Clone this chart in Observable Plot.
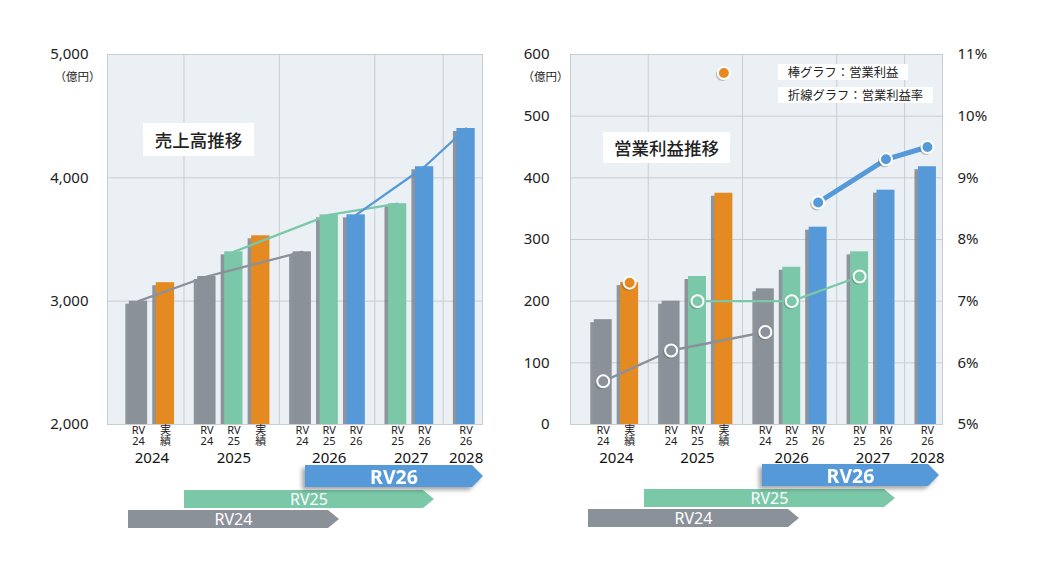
<!DOCTYPE html>
<html><head><meta charset="utf-8">
<script src="https://cdn.jsdelivr.net/npm/d3@7"></script>
<script src="https://cdn.jsdelivr.net/npm/@observablehq/plot@0.6"></script>
<style>
body{margin:0;background:#fff;font-family:"Noto Sans","Noto Sans CJK JP",sans-serif;}
#wrap{position:relative;width:1040px;height:578px;overflow:hidden;background:#fff;}
.chart{position:absolute;top:0;}
.tbox{position:absolute;background:#fff;color:#222;display:flex;align-items:center;justify-content:center;font-family:"Noto Sans CJK JP",sans-serif;white-space:nowrap;}
.arrow{position:absolute;color:#fff;display:flex;align-items:center;justify-content:center;font-family:"Noto Sans","Noto Sans CJK JP",sans-serif;
 clip-path:polygon(0 0,calc(100% - 11px) 0,100% 50%,calc(100% - 11px) 100%,0 100%);}
.shadow{position:absolute;filter:drop-shadow(-3px 3px 2px rgba(0,0,0,0.35));}
</style></head><body><div id="wrap"></div>
<script>
// ---- data ----
const years = ["2024","2025","2026","2027","2028"];
const barYear = ["2024","2024","2025","2025","2025","2026","2026","2026","2027","2027","2028"];
const barPlan = ["RV24","実績","RV24","RV25","実績","RV24","RV25","RV26","RV25","RV26","RV26"];
const sales  = [3000,3150,3200,3400,3530,3400,3700,3700,3790,4090,4400];   // 億円
const profit = [170,230,200,240,375,220,255,320,280,380,418];               // 億円
const margin = [5.7,7.3,6.2,7.0,10.7,6.5,7.0,8.6,7.4,9.3,9.5];              // %
const plans = ["RV24","RV25","RV26","実績"];
const planColors = ["#8b9199","#7bc8a9","#5599d8","#e58a21"];
const salesTicks = [2000,3000,4000,5000];
const profitTicks = [0,100,200,300,400,500,600];

const FONT = '"Noto Sans","Noto Sans CJK JP",sans-serif';
const colorOf = p => planColors[plans.indexOf(p)];
const tickLabel = p => p === "実績" ? "実\n績" : "RV\n" + p.slice(2);

function positions(gap){
  return barYear.map((y,i)=> i + years.indexOf(y)*gap);
}
function buildRows(gap, values, extra){
  const pos = positions(gap);
  return barYear.map((y,i)=>({year:y, plan:barPlan[i], pos:pos[i], v:values[i], m: extra ? extra[i] : null}));
}
function groupInfo(rows){
  const centers = years.map(y=>{const r=rows.filter(d=>d.year===y);return {year:y, c:d3.mean(r,d=>d.pos), lo:d3.min(r,d=>d.pos), hi:d3.max(r,d=>d.pos)};});
  const grid = [];
  for(let i=0;i<centers.length-1;i++) grid.push((centers[i].hi+centers[i+1].lo)/2 - 0.08);
  return {centers, grid};
}

const HW = 0.34; // half bar width in slot units
const bg = "#ebf0f5", gridC = "#c9cdd3";

function backMarks(groups){
  return [
    Plot.frame({fill:bg, stroke:gridC}),
    Plot.ruleX(groups.grid, {stroke:gridC, strokeWidth:1})
  ];
}
function barMarks(rows, y0, groups){
  return [
    Plot.rectY(rows, {x1:d=>d.pos-HW, x2:d=>d.pos+HW, y1:()=>y0, y2:"v", fill:"#6f757d", fillOpacity:0.75, dx:-3.5, dy:3, clip:true}),
    Plot.rectY(rows, {x1:d=>d.pos-HW, x2:d=>d.pos+HW, y1:()=>y0, y2:"v", fill:d=>colorOf(d.plan)}),
    Plot.text(rows, {x:"pos", text:d=>tickLabel(d.plan), frameAnchor:"bottom", lineAnchor:"top", dy:1, fontSize:11, lineHeight:1.05, fill:"#222"}),
    Plot.text(groups.centers, {x:"c", text:"year", frameAnchor:"bottom", lineAnchor:"middle", dy:34, fontSize:15, fill:"#111"})
  ];
}

// ---- left chart : 売上高 ----
const gapL = 0.54;
const rowsL = buildRows(gapL, sales);
const gL = groupInfo(rowsL);
const left = Plot.plot({
  width:520, height:470, marginLeft:107, marginRight:38, marginTop:54, marginBottom:46,
  style:{fontFamily:FONT, fontSize:"15px", color:"#222", background:"transparent", overflow:"visible"},
  x:{type:"linear", domain:[-1.15, 12.77], axis:null},
  y:{domain:[2000,5000], axis:null},
  marks:[
    ...backMarks(gL),
    Plot.gridY(salesTicks.slice(1,3), {stroke:gridC, strokeOpacity:1}),
    ...barMarks(rowsL, 2000, gL),
    ...["RV24","RV25","RV26"].map(p=>Plot.line(rowsL.filter(d=>d.plan===p), {x:"pos", y:"v", stroke:colorOf(p), strokeWidth:2.3})),
    Plot.axisY(salesTicks, {label:null, tickSize:0, tickPadding:19, tickFormat:d3.format(","), fontSize:15, fill:"#222"}),
    Plot.text(["（億円）"], {frameAnchor:"top-left", dx:-53, dy:18, textAnchor:"start", fontSize:11.5, fill:"#222"})
  ]
});
left.classList.add("chart"); left.style.left = "0px";

// ---- right chart : 営業利益 / 営業利益率 ----
const gapR = 0.57;
const rowsR = buildRows(gapR, profit, margin);
const gR = groupInfo(rowsR);
const mY = m => (m-5)*100; // 5%..11%  ->  0..600
const right = Plot.plot({
  width:530, height:470, marginLeft:60, marginRight:98, marginTop:54, marginBottom:46,
  style:{fontFamily:FONT, fontSize:"15px", color:"#222", background:"transparent", overflow:"visible"},
  x:{type:"linear", domain:[-1.24, 12.85], axis:null},
  y:{domain:[0,600], axis:null},
  marks:[
    ...backMarks(gR),
    Plot.gridY(profitTicks.slice(1,6), {stroke:gridC, strokeOpacity:1}),
    ...barMarks(rowsR, 0, gR),
    ...["RV24","RV25","RV26"].map(p=>Plot.line(rowsR.filter(d=>d.plan===p), {x:"pos", y:d=>mY(d.m), stroke:colorOf(p), strokeWidth: p==="RV26"?5:2.3})),
    Plot.dot(rowsR, {x:"pos", y:d=>mY(d.m), r:6.5, fill:"#555", fillOpacity:0.35, dx:-1.5, dy:1.5}),
    Plot.dot(rowsR, {x:"pos", y:d=>mY(d.m), r:6, fill:d=>colorOf(d.plan), stroke:"#fff", strokeWidth:2}),
    Plot.axisY(profitTicks, {label:null, tickSize:0, tickPadding:21, fontSize:15, fill:"#222"}),
    Plot.axisY(profitTicks, {label:null, anchor:"right", tickSize:0, tickPadding:15, tickFormat:d=>(d/100+5)+"%", fontSize:15, fill:"#222"}),
    Plot.text(["（億円）"], {frameAnchor:"top-left", dx:-48, dy:18, textAnchor:"start", fontSize:11.5, fill:"#222"})
  ]
});
right.classList.add("chart"); right.style.left = "510px";

const wrap = document.getElementById("wrap");
wrap.append(left, right);

// ---- overlays: titles, legend, plan arrows ----
function box(x,y,w,h,text,size,weight){
  const d=document.createElement("div"); d.className="tbox";
  Object.assign(d.style,{left:x+"px",top:y+"px",width:w+"px",height:h+"px",fontSize:size+"px",fontWeight:weight||400});
  d.textContent=text; wrap.append(d);
}
box(143,123,111,33,"売上高推移",17.5,500);
box(603,132,127,31,"営業利益推移",17.5,500);
box(778,64,130,16,"棒グラフ：営業利益",12.3,400);
box(778,87,155,16,"折線グラフ：営業利益率",12.3,400);

function arrow(x,y,w,h,text,color,size,weight,shadow){
  const a=document.createElement("div"); a.className="arrow";
  Object.assign(a.style,{left:(shadow?0:x)+"px",top:(shadow?0:y)+"px",width:w+"px",height:h+"px",background:color,fontSize:size+"px",fontWeight:weight});
  a.textContent=text;
  if(shadow){const s=document.createElement("div");s.className="shadow";Object.assign(s.style,{left:x+"px",top:y+"px",width:w+"px",height:h+"px"});s.append(a);wrap.append(s);}
  else wrap.append(a);
}
// left
arrow(128,510,211,18,"RV24",colorOf("RV24"),16,400,false);
arrow(184,490,250,18,"RV25",colorOf("RV25"),16,400,false);
arrow(305,465,178,22,"RV26",colorOf("RV26"),19.5,700,true);
// right
arrow(588,509,211,18,"RV24",colorOf("RV24"),16,400,false);
arrow(644,489,251,18,"RV25",colorOf("RV25"),16,400,false);
arrow(762,464,177,22,"RV26",colorOf("RV26"),19.5,700,true);
</script></body></html>
